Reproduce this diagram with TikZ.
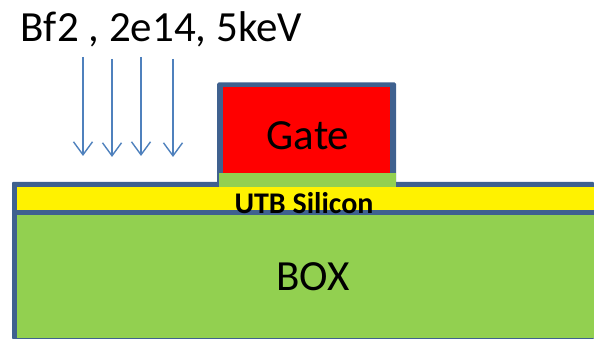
\documentclass[tikz,border=0pt]{standalone}
\usepackage{fontspec}
\setmainfont{Carlito}
\usetikzlibrary{arrows.meta}
\definecolor{frameblue}{HTML}{3F618F}
\definecolor{arrowblue}{HTML}{4F81BD}
\definecolor{boxgreen}{HTML}{92D050}
\tikzset{
  x=1pt,y=-1pt,
  beam/.style={draw=arrowblue,line width=1.4pt,-{Straight Barb[length=13pt,width=19pt,line width=1.4pt]}},
  biglabel/.style={font=\fontsize{43}{43}\selectfont,inner sep=0pt,anchor=base,text=black},
  boldlabel/.style={font=\fontsize{30}{30}\selectfont\bfseries,inner sep=0pt,anchor=base,text=black}
}
\begin{document}
\begin{tikzpicture}
\useasboundingbox (0,0) rectangle (594,339);
% substrate stack
\fill[frameblue,rounded corners=1pt] (12,182) -- (594,182) -- (594,339) -- (12,339) -- cycle;
\fill[yellow] (17,187) rectangle (594,210);
\fill[boxgreen] (17,215) rectangle (594,338);
% gate stack
\fill[frameblue,rounded corners=1.5pt] (217,187) -- (217,82.5) -- (396,82.5) -- (396,187) -- cycle;
\fill[red] (223,87.5) rectangle (390,173);
\fill[boxgreen] (219,173) rectangle (396,187);
% labels
\node[biglabel] (implant) at (161.5,42) {Bf2 , 2e14, 5keV};
\node[biglabel] (gate) at (308,150) {Gate};
\node[biglabel] (box) at (313,290) {BOX};
\node[boldlabel] (utb) at (304,213.5) {UTB Silicon};
% implant arrows
\coordinate (a1s) at (83,57);  \coordinate (a1e) at (83,156);
\coordinate (a2s) at (112,59); \coordinate (a2e) at (112,157);
\coordinate (a3s) at (141,57); \coordinate (a3e) at (141,156);
\coordinate (a4s) at (173,59); \coordinate (a4e) at (173,157);
\draw[beam] (a1s) -- (a1e);
\draw[beam] (a2s) -- (a2e);
\draw[beam] (a3s) -- (a3e);
\draw[beam] (a4s) -- (a4e);
\end{tikzpicture}
\end{document}
